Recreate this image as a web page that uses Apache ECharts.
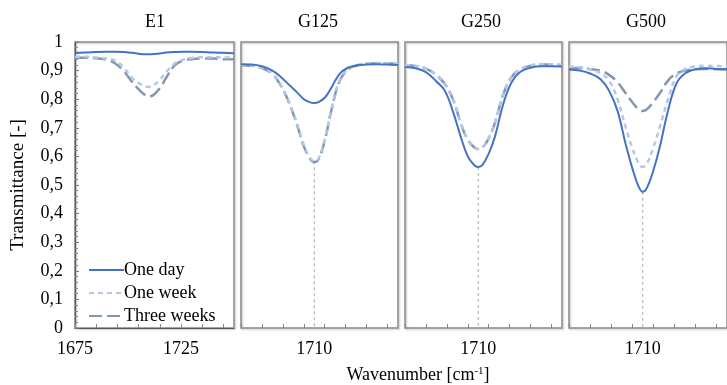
<!DOCTYPE html>
<html><head><meta charset="utf-8">
<script src="https://cdn.jsdelivr.net/npm/echarts@6/dist/echarts.min.js"></script>
<style>html,body{margin:0;padding:0;background:#fff}#c{width:727px;height:385px}</style>
</head><body><div id="c"></div>
<script>
const panels = ['E1', 'G125', 'G250', 'G500'];
const seriesNames = ['One day', 'One week', 'Three weeks'];
const wavenumber = [1675, 1680, 1685, 1690, 1694, 1698, 1702, 1705, 1708, 1710, 1712, 1715, 1718, 1722, 1726, 1730, 1735, 1740, 1745, 1750];

const e1OneDay     = [0.962,0.963,0.965,0.966,0.966,0.965,0.962,0.959,0.957,0.957,0.958,0.960,0.963,0.965,0.966,0.966,0.965,0.963,0.962,0.961];
const e1OneWeek    = [0.948,0.948,0.946,0.942,0.935,0.910,0.875,0.857,0.845,0.843,0.848,0.868,0.895,0.925,0.938,0.944,0.947,0.947,0.946,0.945];
const e1ThreeWeeks = [0.945,0.945,0.943,0.938,0.925,0.898,0.860,0.835,0.815,0.810,0.815,0.838,0.875,0.918,0.935,0.940,0.942,0.942,0.940,0.940];

const g125OneDay     = [0.922,0.921,0.915,0.900,0.878,0.850,0.822,0.800,0.789,0.787,0.790,0.805,0.838,0.888,0.910,0.918,0.921,0.922,0.921,0.920];
const g125OneWeek    = [0.920,0.918,0.910,0.890,0.850,0.790,0.710,0.640,0.595,0.583,0.592,0.660,0.760,0.865,0.905,0.918,0.925,0.927,0.926,0.925];
const g125ThreeWeeks = [0.919,0.917,0.909,0.888,0.848,0.787,0.705,0.635,0.592,0.580,0.589,0.655,0.755,0.862,0.903,0.917,0.924,0.926,0.925,0.924];

const g250OneDay     = [0.913,0.908,0.895,0.862,0.830,0.755,0.660,0.600,0.570,0.563,0.570,0.610,0.670,0.785,0.860,0.895,0.910,0.915,0.915,0.914];
const g250OneWeek    = [0.920,0.917,0.908,0.885,0.855,0.800,0.710,0.660,0.633,0.626,0.632,0.665,0.720,0.820,0.880,0.905,0.918,0.922,0.922,0.920];
const g250ThreeWeeks = [0.919,0.916,0.907,0.884,0.853,0.798,0.708,0.658,0.632,0.625,0.631,0.663,0.718,0.818,0.878,0.904,0.917,0.921,0.921,0.919];

const g500OneDay     = [0.904,0.900,0.890,0.870,0.830,0.760,0.640,0.560,0.495,0.476,0.490,0.550,0.630,0.760,0.855,0.890,0.905,0.908,0.906,0.905];
const g500OneWeek    = [0.914,0.912,0.905,0.890,0.865,0.800,0.700,0.630,0.577,0.563,0.575,0.630,0.700,0.800,0.880,0.905,0.915,0.917,0.916,0.915];
const g500ThreeWeeks = [0.910,0.908,0.905,0.900,0.885,0.860,0.820,0.790,0.765,0.759,0.765,0.790,0.820,0.865,0.890,0.900,0.905,0.906,0.905,0.905];

const panelData = [
  [e1OneDay, e1OneWeek, e1ThreeWeeks],
  [g125OneDay, g125OneWeek, g125ThreeWeeks],
  [g250OneDay, g250OneWeek, g250ThreeWeeks],
  [g500OneDay, g500OneWeek, g500ThreeWeeks]
];

const dropX = [1710, 1710];
const dropY = [[null, null], [0.583, 0], [0.563, 0], [0.476, 0]];

const xTicks = [1675, 1685, 1695, 1705, 1715, 1725, 1735, 1745];
const xLabelsE1 = [1675, 1725];
const xLabelsG = [1710];
const yMin = 0, yMax = 1, yStep = 0.1;

const colors = ['#4472C4', '#B4C7E7', '#8497B0'];
const lineTypes = ['solid', [5, 4], [13, 5]];
const widths = [2, 2.5, 2.5];

const font = 'Liberation Serif';
const grids = [
  {left: 75, top: 42, width: 159, height: 286},
  {left: 241, top: 42, width: 157, height: 286},
  {left: 405, top: 42, width: 157, height: 286},
  {left: 569, top: 42, width: 162, height: 286}
];
const titleX = [155, 318, 481, 646];

const option = {
  animation: false,
  backgroundColor: '#fff',
  grid: grids.map((g, i) => Object.assign({}, g, {
    show: true, borderColor: '#8c8c8c', borderWidth: 1.5, backgroundColor: 'transparent',
    shadowColor: 'rgba(0,0,0,0.25)', shadowBlur: 2, shadowOffsetX: 1, shadowOffsetY: 1
  })),
  title: {
    text: '{a|Wavenumber [cm}{b|-1}{a|]}',
    left: 413, top: 361, textAlign: 'center',
    textStyle: {fontWeight: 'normal', rich: {
      a: {fontFamily: font, fontSize: 18, color: '#000', fontWeight: 'normal'},
      b: {fontFamily: font, fontSize: 11, color: '#000', fontWeight: 'normal', verticalAlign: 'top', padding: [0, 0, 8, 0]}
    }}
  },
  graphic: panels.map((p, i) => ({
    type: 'text', x: titleX[i], y: 13,
    style: {text: p, fontFamily: font, fontSize: 18, fill: '#000', textAlign: 'center', textVerticalAlign: 'top'}
  })),
  legend: {
    orient: 'vertical', left: 83, top: 256, itemGap: 5, itemWidth: 35, itemHeight: 14,
    data: seriesNames,
    itemStyle: {opacity: 0},
    textStyle: {fontFamily: font, fontSize: 18, color: '#000', padding: [0, 0, 0, -5]}
  },
  xAxis: panels.map((p, i) => ({
    type: 'value', gridIndex: i, min: 1675, max: 1750,
    axisLine: {show: i === 0, lineStyle: {color: '#555', width: 1.2}},
    axisTick: {show: true, inside: true, length: 4, customValues: xTicks, lineStyle: {color: '#888'}},
    axisLabel: {show: true, customValues: i === 0 ? xLabelsE1 : xLabelsG, fontFamily: font, fontSize: 18, color: '#000', margin: 12,
      formatter: v => String(v)},
    splitLine: {show: false}
  })),
  yAxis: panels.map((p, i) => ({
    type: 'value', gridIndex: i, min: yMin, max: yMax, interval: yStep,
    show: i === 0,
    name: i === 0 ? 'Transmittance [-]' : '', nameLocation: 'middle', nameGap: 47,
    nameTextStyle: {fontFamily: font, fontSize: 19, color: '#000'},
    axisLine: {show: true, lineStyle: {color: '#555', width: 1.2}},
    axisTick: {show: true, inside: true, length: 4, lineStyle: {color: '#777'}},
    minorTick: {show: true, splitNumber: 5, length: 3, lineStyle: {color: '#888'}},
    axisLabel: {fontFamily: font, fontSize: 18, color: '#000', margin: 12,
      formatter: v => String(Math.round(v * 10) / 10).replace('.', ',')},
    splitLine: {show: false}
  })),
  series: []
};

panels.forEach((p, i) => {
  if (dropY[i][0] !== null) {
    option.series.push({
      type: 'line', xAxisIndex: i, yAxisIndex: i, symbol: 'none', silent: true,
      data: dropX.map((x, k) => [x, dropY[i][k]]),
      lineStyle: {color: '#aaa', width: 1, type: [3, 3]}, z: 1
    });
  }
  seriesNames.forEach((name, s) => {
    option.series.push({
      name: name, type: 'line', xAxisIndex: i, yAxisIndex: i, symbol: 'none', smooth: 0.4,
      data: wavenumber.map((x, k) => [x, panelData[i][s][k]]),
      lineStyle: {color: colors[s], width: widths[s], type: lineTypes[s]},
      itemStyle: {color: colors[s]},
      z: 3 - s + 2
    });
  });
});

const chart = echarts.init(document.getElementById('c'));
chart.setOption(option);
</script></body></html>
